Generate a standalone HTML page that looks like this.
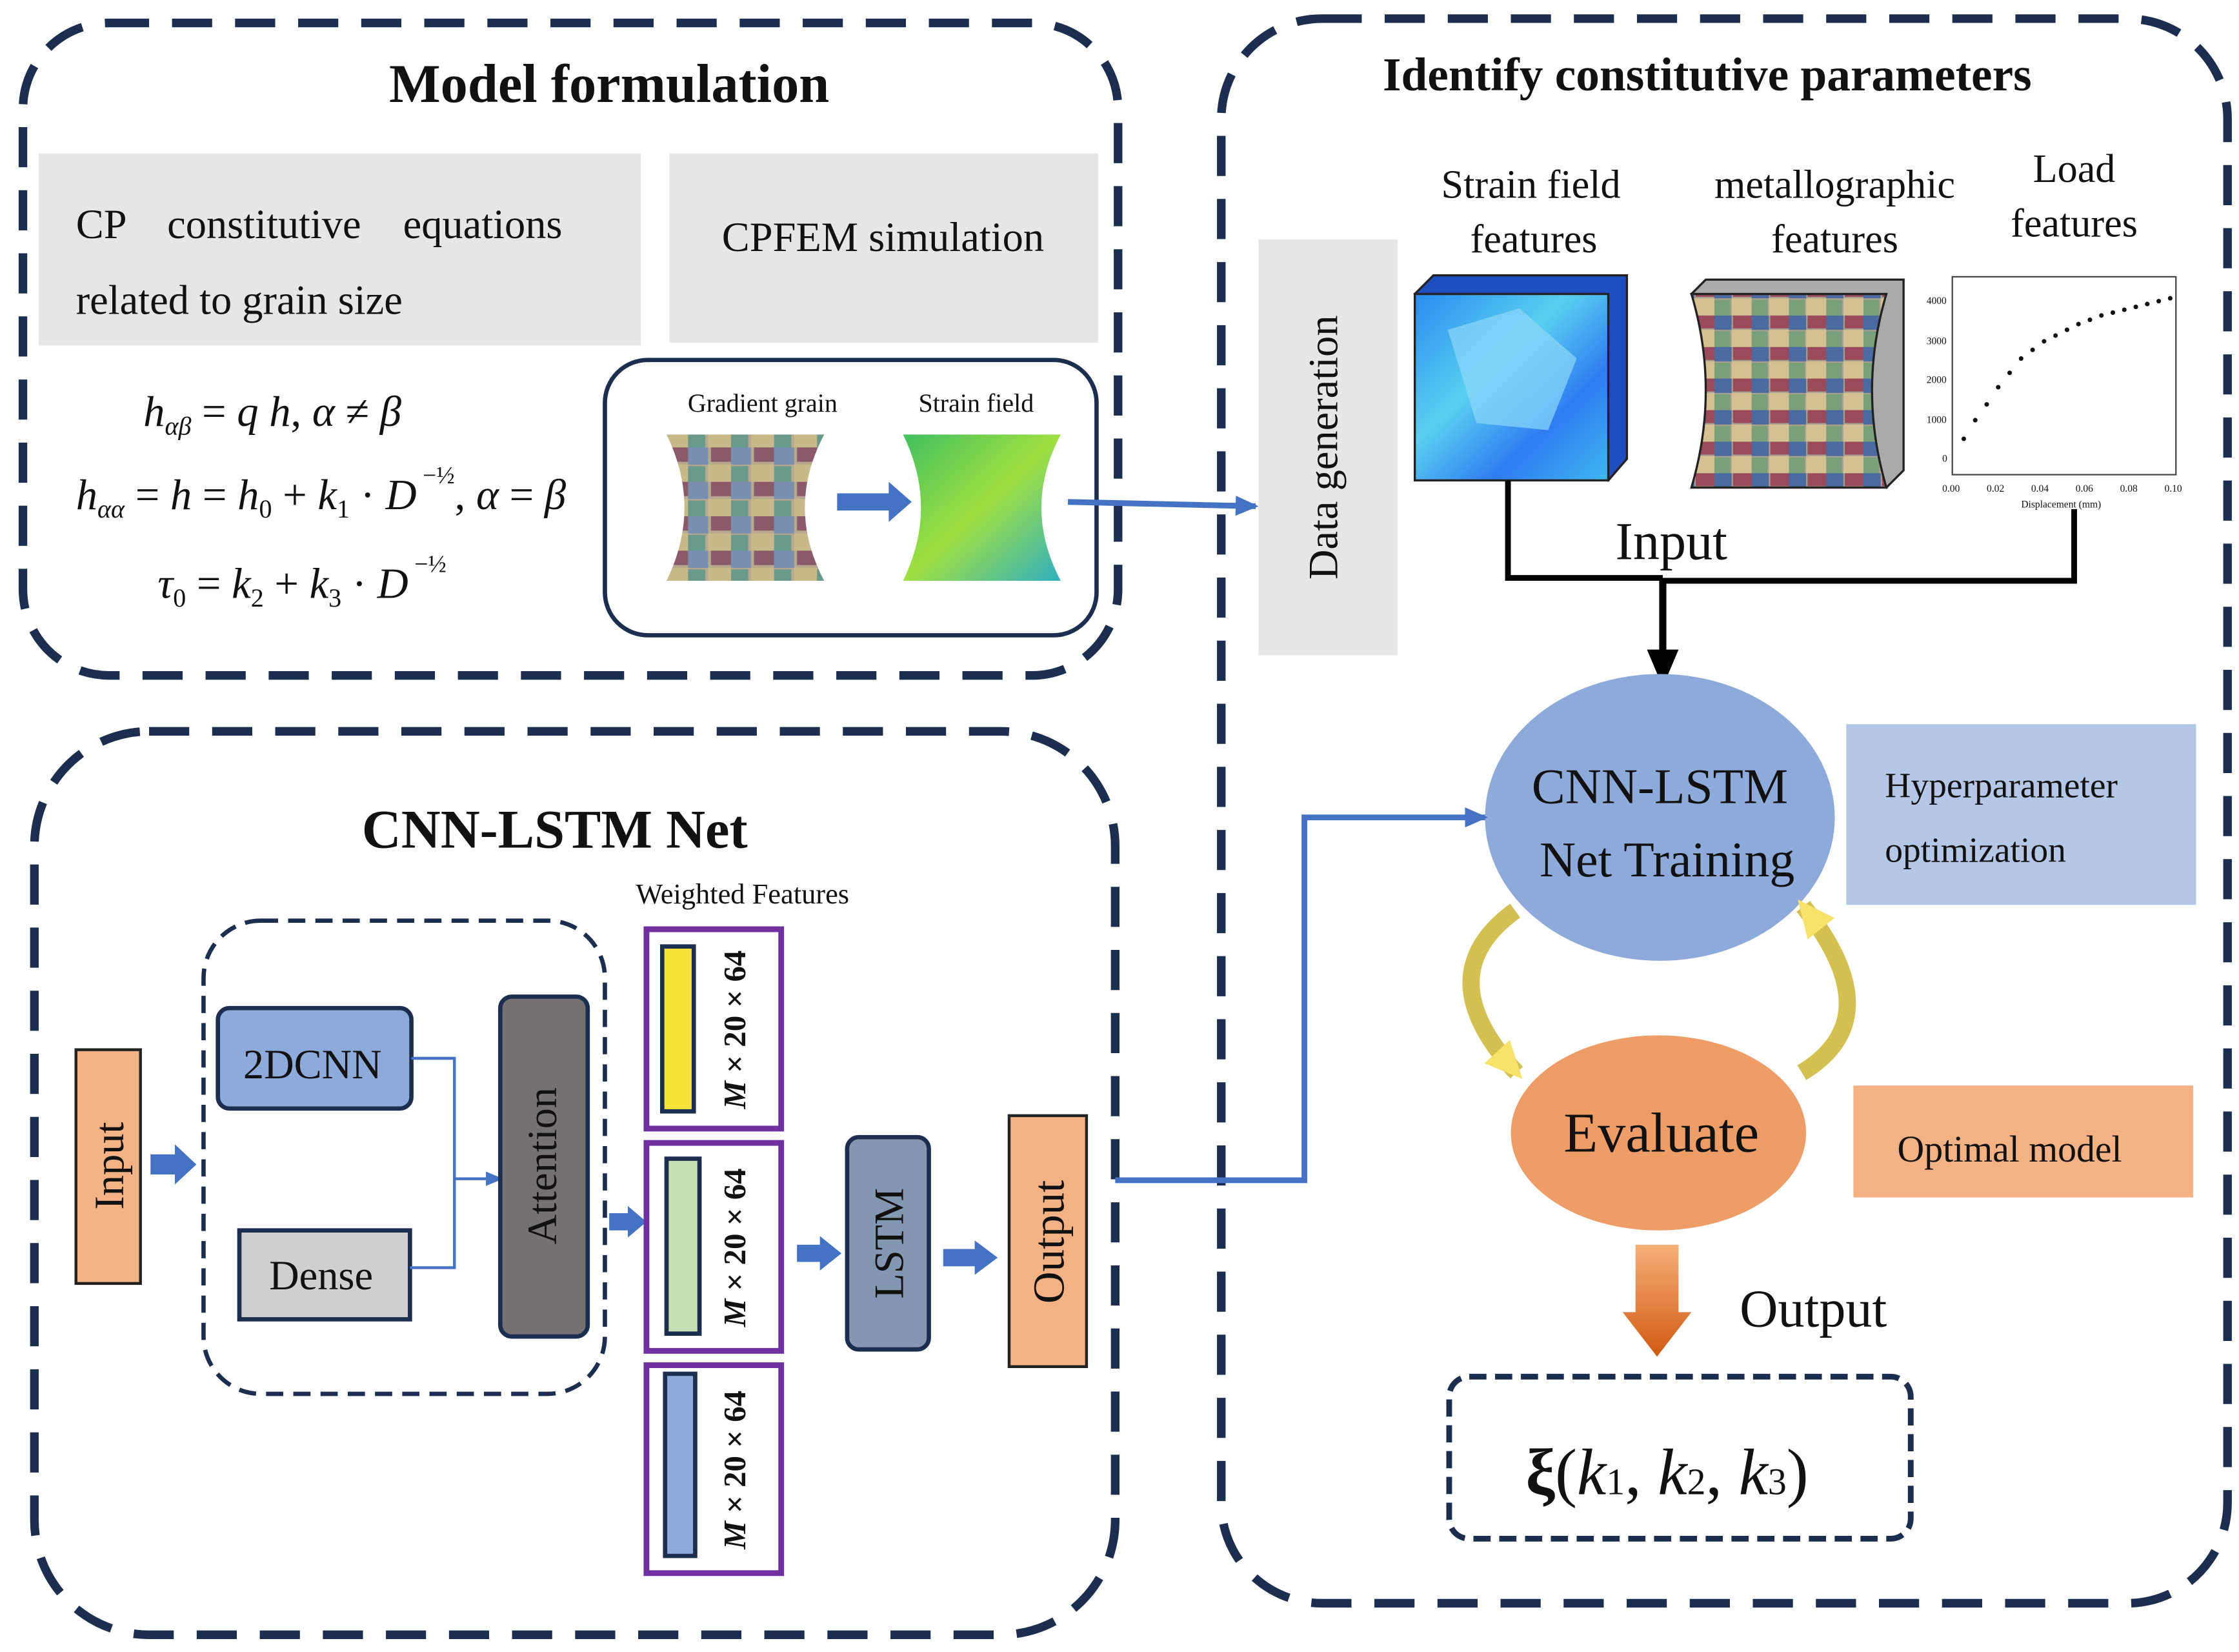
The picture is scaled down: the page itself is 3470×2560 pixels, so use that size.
<!DOCTYPE html>
<html><head><meta charset="utf-8"><style>
html,body{margin:0;padding:0;background:#fff}
svg{display:block}
text{font-family:"Liberation Serif",serif;fill:#111}
</style></head><body>
<svg width="3470" height="2560" viewBox="0 0 1562 1152" preserveAspectRatio="none" xmlns="http://www.w3.org/2000/svg">
<defs>
<marker id="ab" markerWidth="16" markerHeight="16" refX="14" refY="8" orient="auto" markerUnits="userSpaceOnUse"><path d="M0,1 L16,8 L0,15 z" fill="#4472c4"/></marker>
<marker id="abs" markerWidth="12" markerHeight="12" refX="10" refY="6" orient="auto" markerUnits="userSpaceOnUse"><path d="M0,1 L12,6 L0,11 z" fill="#4472c4"/></marker>
<marker id="ak" markerWidth="26" markerHeight="26" refX="22" refY="13" orient="auto" markerUnits="userSpaceOnUse"><path d="M0,2 L26,13 L0,24 z" fill="#000"/></marker>
<marker id="ay" markerWidth="26" markerHeight="26" refX="20" refY="13" orient="auto" markerUnits="userSpaceOnUse"><path d="M0,1 L26,13 L0,25 z" fill="#f7e36a"/></marker>
<linearGradient id="og" x1="0" y1="0" x2="0" y2="1"><stop offset="0" stop-color="#f6b07a"/><stop offset="1" stop-color="#d05a12"/></linearGradient>
<linearGradient id="sf" x1="0" y1="0" x2="1" y2="1"><stop offset="0" stop-color="#2a8cf0"/><stop offset=".4" stop-color="#5ad0f0"/><stop offset=".7" stop-color="#2e7cf0"/><stop offset="1" stop-color="#40b8f0"/></linearGradient>
<linearGradient id="gf" x1="0" y1="0" x2="1" y2="1"><stop offset="0" stop-color="#40c060"/><stop offset=".5" stop-color="#a0e040"/><stop offset="1" stop-color="#30b0c0"/></linearGradient>
<pattern id="gr" width="30" height="24" patternUnits="userSpaceOnUse"><rect width="30" height="24" fill="#b8a890"/><rect width="14" height="12" fill="#7a8fb0"/><rect x="14" y="12" width="16" height="12" fill="#c9b98a"/><rect x="16" width="14" height="10" fill="#8a5a6a"/><rect y="13" width="12" height="11" fill="#6a9a8a"/></pattern>
<pattern id="gr2" width="26" height="22" patternUnits="userSpaceOnUse"><rect width="26" height="22" fill="#a8a090"/><rect width="12" height="10" fill="#4a6aa0"/><rect x="12" y="10" width="14" height="12" fill="#d4c090"/><rect x="13" width="13" height="9" fill="#9a4a5a"/><rect y="11" width="11" height="11" fill="#7aa07a"/></pattern>
</defs>

<!-- Top-left dashed box -->
<rect x="16" y="16" width="764" height="455" rx="60" fill="none" stroke="#1c2e4f" stroke-width="6" stroke-dasharray="28,16"/>
<text x="425" y="71" font-size="38" font-weight="bold" text-anchor="middle">Model formulation</text>
<rect x="27" y="107" width="420" height="134" fill="#e7e6e6"/>
<text x="53" y="166" font-size="29" word-spacing="22">CP constitutive equations</text>
<text x="53" y="219" font-size="29">related to grain size</text>
<rect x="467" y="107" width="299" height="132" fill="#e7e6e6"/>
<text x="616" y="175" font-size="29" text-anchor="middle">CPFEM simulation</text>
<text x="100" y="297" font-size="30" font-style="italic">h<tspan font-size="18" dy="6">αβ</tspan><tspan dy="-6" font-style="normal"> = </tspan>q h<tspan font-style="normal">,    </tspan>α<tspan font-style="normal"> ≠ </tspan>β</text>
<text x="53" y="355" font-size="30" font-style="italic">h<tspan font-size="18" dy="6">αα</tspan><tspan dy="-6" font-style="normal"> = </tspan>h<tspan font-style="normal"> = </tspan>h<tspan font-size="18" dy="6" font-style="normal">0</tspan><tspan dy="-6" font-style="normal"> + </tspan>k<tspan font-size="18" dy="6" font-style="normal">1</tspan><tspan dy="-6" font-style="normal"> · </tspan>D<tspan font-size="17" dy="-18" font-style="normal"> −½</tspan><tspan dy="18" font-style="normal">,  </tspan>α<tspan font-style="normal"> = </tspan>β</text>
<text x="110" y="417" font-size="30" font-style="italic">τ<tspan font-size="18" dy="6" font-style="normal">0</tspan><tspan dy="-6" font-style="normal"> = </tspan>k<tspan font-size="18" dy="6" font-style="normal">2</tspan><tspan dy="-6" font-style="normal"> + </tspan>k<tspan font-size="18" dy="6" font-style="normal">3</tspan><tspan dy="-6" font-style="normal"> · </tspan>D<tspan font-size="17" dy="-18" font-style="normal"> −½</tspan></text>
<rect x="422" y="251" width="343" height="192" rx="30" fill="#fff" stroke="#1c2e4f" stroke-width="3"/>
<text x="532" y="287" font-size="18" text-anchor="middle">Gradient grain</text>
<text x="681" y="287" font-size="18" text-anchor="middle">Strain field</text>
<path d="M465,303 L575,303 Q548,354 575,405 L465,405 Q490,354 465,303 z" fill="url(#gr)"/>
<path d="M630,303 L740,303 Q713,354 740,405 L630,405 Q655,354 630,303 z" fill="url(#gf)"/>
<path d="M584,344 L620,344 L620,336 L636,350 L620,364 L620,356 L584,356 z" fill="#4472c4"/>
<line x1="745" y1="350" x2="876" y2="353" stroke="#4472c4" stroke-width="4" marker-end="url(#ab)"/>

<!-- Right dashed box -->
<rect x="852" y="13" width="702" height="1105" rx="70" fill="none" stroke="#1c2e4f" stroke-width="6" stroke-dasharray="28,16"/>
<text x="1191" y="63" font-size="33" font-weight="bold" text-anchor="middle">Identify constitutive parameters</text>
<rect x="878" y="167" width="97" height="290" fill="#e7e6e6"/>
<text transform="translate(933,312) rotate(-90)" font-size="29" text-anchor="middle">Data generation</text>
<text x="1068" y="138" font-size="28" text-anchor="middle">Strain field</text>
<text x="1070" y="176" font-size="28" text-anchor="middle">features</text>
<text x="1280" y="138" font-size="28" text-anchor="middle">metallographic</text>
<text x="1280" y="176" font-size="28" text-anchor="middle">features</text>
<text x="1447" y="127" font-size="28" text-anchor="middle">Load</text>
<text x="1447" y="165" font-size="28" text-anchor="middle">features</text>
<path d="M987,205 L1000,192 L1135,192 L1135,320 L1122,335 z" fill="#1f4ec0" stroke="#222" stroke-width="1.5"/>
<rect x="987" y="205" width="135" height="130" fill="url(#sf)" stroke="#222" stroke-width="1.5"/>
<path d="M1010,230 L1060,215 L1100,250 L1080,300 L1030,295 z" fill="#8ad8f8" opacity=".7"/>
<path d="M1180,205 L1190,195 L1328,195 L1328,328 L1316,340 z" fill="#aaa" stroke="#222" stroke-width="1.5"/>
<path d="M1180,205 L1316,205 Q1296,272 1316,340 L1180,340 Q1200,272 1180,205 z" fill="url(#gr2)" stroke="#222" stroke-width="1.5"/>
<rect x="1362" y="193" width="156" height="138" fill="#fff" stroke="#444" stroke-width="1"/>
<g font-size="7" fill="#333"><text x="1344" y="212">4000</text><text x="1344" y="240">3000</text><text x="1344" y="267">2000</text><text x="1344" y="295">1000</text><text x="1355" y="322">0</text>
<text x="1355" y="343">0.00</text><text x="1386" y="343">0.02</text><text x="1417" y="343">0.04</text><text x="1448" y="343">0.06</text><text x="1479" y="343">0.08</text><text x="1510" y="343">0.10</text>
<text x="1410" y="354">Displacement (mm)</text></g>
<g fill="#111"><circle cx="1370" cy="306" r="1.6"/><circle cx="1378" cy="293" r="1.6"/><circle cx="1386" cy="282" r="1.6"/><circle cx="1394" cy="270" r="1.6"/><circle cx="1402" cy="260" r="1.6"/><circle cx="1410" cy="250" r="1.6"/><circle cx="1418" cy="244" r="1.6"/><circle cx="1426" cy="238" r="1.6"/><circle cx="1434" cy="234" r="1.6"/><circle cx="1442" cy="230" r="1.6"/><circle cx="1450" cy="226" r="1.6"/><circle cx="1458" cy="223" r="1.6"/><circle cx="1466" cy="220" r="1.6"/><circle cx="1474" cy="218" r="1.6"/><circle cx="1482" cy="216" r="1.6"/><circle cx="1490" cy="214" r="1.6"/><circle cx="1498" cy="212" r="1.6"/><circle cx="1506" cy="210" r="1.6"/><circle cx="1514" cy="208" r="1.6"/></g>
<polyline points="1052,335 1052,403 1160,403" fill="none" stroke="#000" stroke-width="4"/>
<polyline points="1447,355 1447,405 1160,405" fill="none" stroke="#000" stroke-width="4"/>
<line x1="1160" y1="403" x2="1160" y2="475" stroke="#000" stroke-width="5" marker-end="url(#ak)"/>
<text x="1166" y="390" font-size="37" text-anchor="middle">Input</text>
<ellipse cx="1158" cy="570" rx="122" ry="100" fill="#8eaadb"/>
<text x="1158" y="560" font-size="35" text-anchor="middle">CNN-LSTM</text>
<text x="1163" y="611" font-size="35" text-anchor="middle">Net Training</text>
<rect x="1288" y="505" width="244" height="126" fill="#b4c7e7"/>
<text x="1315" y="556" font-size="25">Hyperparameter</text>
<text x="1315" y="601" font-size="25">optimization</text>
<ellipse cx="1157" cy="790" rx="103" ry="68" fill="#ef9d67"/>
<text x="1159" y="803" font-size="39" text-anchor="middle">Evaluate</text>
<rect x="1293" y="757" width="237" height="78" fill="#f4b183"/>
<text x="1402" y="810" font-size="26" text-anchor="middle">Optimal model</text>
<path d="M1057,635 Q995,680 1058,748" fill="none" stroke="#d4c050" stroke-width="12" marker-end="url(#ay)"/>
<path d="M1257,748 Q1320,710 1258,632" fill="none" stroke="#d4c050" stroke-width="12" marker-end="url(#ay)"/>
<path d="M1141,868 L1171,868 L1171,915 L1180,915 L1156,946 L1132,915 L1141,915 z" fill="url(#og)"/>
<text x="1265" y="925" font-size="37" text-anchor="middle">Output</text>
<rect x="1011" y="960" width="322" height="113" rx="14" fill="none" stroke="#1c2e4f" stroke-width="4" stroke-dasharray="12,6"/>
<text x="1163" y="1042" font-size="46" text-anchor="middle"><tspan font-weight="bold">ξ</tspan>(<tspan font-style="italic">k</tspan><tspan font-size="26">1</tspan>, <tspan font-style="italic">k</tspan><tspan font-size="26">2</tspan>, <tspan font-style="italic">k</tspan><tspan font-size="26">3</tspan>)</text>

<!-- Bottom-left dashed box -->
<rect x="24" y="510" width="754" height="630" rx="80" fill="none" stroke="#1c2e4f" stroke-width="6" stroke-dasharray="28,16"/>
<text x="387" y="591" font-size="38" font-weight="bold" text-anchor="middle">CNN-LSTM Net</text>
<rect x="53" y="732" width="45" height="163" fill="#f4b183" stroke="#222" stroke-width="2"/>
<text transform="translate(86,813) rotate(-90)" font-size="29" text-anchor="middle">Input</text>
<path d="M105,805 L122,805 L122,798 L137,812 L122,826 L122,819 L105,819 z" fill="#4472c4"/>
<rect x="142" y="642" width="280" height="330" rx="40" fill="none" stroke="#1c2e4f" stroke-width="3" stroke-dasharray="12,7"/>
<rect x="152" y="703" width="135" height="70" rx="8" fill="#8eaadb" stroke="#1c2e4f" stroke-width="3"/>
<text x="218" y="752" font-size="29" text-anchor="middle">2DCNN</text>
<rect x="167" y="858" width="119" height="62" fill="#d0cece" stroke="#1c2e4f" stroke-width="3"/>
<text x="224" y="899" font-size="29" text-anchor="middle">Dense</text>
<polyline points="287,738 317,738 317,884 286,884" fill="none" stroke="#4472c4" stroke-width="2"/>
<line x1="317" y1="822" x2="349" y2="822" stroke="#4472c4" stroke-width="2" marker-end="url(#abs)"/>
<rect x="349" y="695" width="61" height="237" rx="8" fill="#767171" stroke="#1c2e4f" stroke-width="3"/>
<text transform="translate(388,813) rotate(-90)" font-size="29" text-anchor="middle">Attention</text>
<path d="M425,846 L438,846 L438,841 L451,852 L438,863 L438,858 L425,858 z" fill="#4472c4"/>
<text x="518" y="630" font-size="20" text-anchor="middle">Weighted Features</text>
<rect x="451" y="648" width="94" height="139" fill="#fff" stroke="#7030a0" stroke-width="4"/>
<rect x="462" y="660" width="22" height="115" fill="#f6e337" stroke="#1c2e4f" stroke-width="3"/>
<rect x="451" y="797" width="94" height="145" fill="#fff" stroke="#7030a0" stroke-width="4"/>
<rect x="465" y="808" width="23" height="122" fill="#c5e0b4" stroke="#1c2e4f" stroke-width="3"/>
<rect x="451" y="952" width="94" height="145" fill="#fff" stroke="#7030a0" stroke-width="4"/>
<rect x="464" y="958" width="21" height="127" fill="#8eaadb" stroke="#1c2e4f" stroke-width="3"/>
<g font-size="22" font-weight="bold" text-anchor="middle">
<text transform="translate(520,718) rotate(-90)"><tspan font-style="italic">M</tspan> × 20 × 64</text>
<text transform="translate(520,870) rotate(-90)"><tspan font-style="italic">M</tspan> × 20 × 64</text>
<text transform="translate(520,1025) rotate(-90)"><tspan font-style="italic">M</tspan> × 20 × 64</text></g>
<path d="M556,868 L572,868 L572,862 L587,874 L572,886 L572,880 L556,880 z" fill="#4472c4"/>
<rect x="591" y="793" width="57" height="148" rx="8" fill="#8497b0" stroke="#1c2e4f" stroke-width="3"/>
<text transform="translate(630,867) rotate(-90)" font-size="29" text-anchor="middle">LSTM</text>
<path d="M658,871 L680,871 L680,865 L696,877 L680,889 L680,883 L658,883 z" fill="#4472c4"/>
<rect x="704" y="778" width="54" height="175" fill="#f4b183" stroke="#222" stroke-width="2"/>
<text transform="translate(742,866) rotate(-90)" font-size="31" text-anchor="middle">Output</text>
<polyline points="778,823 910,823 910,570 1036,570" fill="none" stroke="#4472c4" stroke-width="4" marker-end="url(#ab)"/>
</svg>
</body></html>
